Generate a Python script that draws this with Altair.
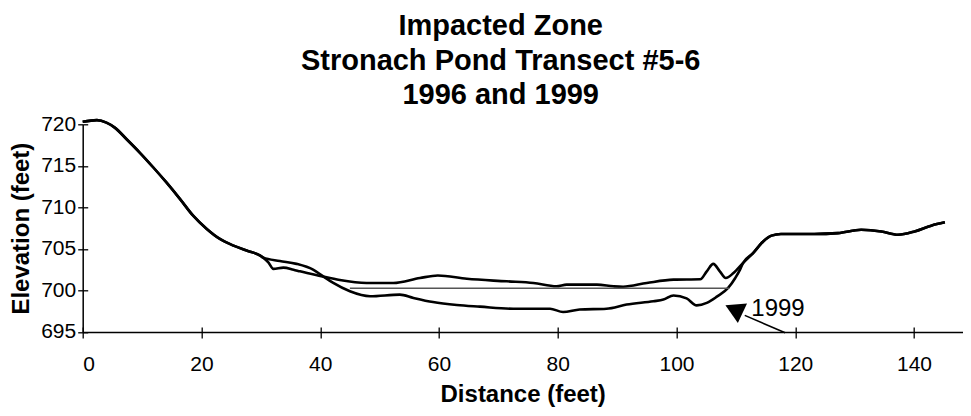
import altair as alt
import pandas as pd

# shared descent (both surveys overlap)
common_d = [0, 2.4, 4.0, 5.4, 7.4, 9.6, 11.9, 14.1, 16.4, 18.6, 20.9, 23.1, 25.4, 27.6, 29.9, 30.4]
common_e = [720.3, 720.5, 720.2, 719.6, 718.2, 716.6, 714.8, 713.0, 711.0, 709.0, 707.4, 706.2, 705.4, 704.8, 704.2, 703.95]

# 1996 profile (upper in the pond)
d1996 = [31.3, 32.1, 33.8, 35.5, 36.6, 40.0, 43.3, 47.8, 52.3, 56.8, 59.8, 64.7, 71.4, 75.9,
         79.8, 81.5, 86.6, 89.4, 91.0, 95.0, 99.5, 104.0, 105.1, 106.2, 107.3, 108.3, 109.6, 111.2]
e1996 = [703.35, 702.6, 702.75, 702.5, 702.3, 701.75, 701.25, 700.9, 700.9, 701.5, 701.8, 701.4, 701.1, 700.9,
         700.5, 700.7, 700.7, 700.5, 700.45, 700.9, 701.3, 701.35, 702.3, 703.2, 702.3, 701.5, 702.1, 703.3]

# 1999 profile (lower in the pond)
d1999 = [33.2, 36.0, 38.8, 40.5, 42.2, 45.0, 48.4, 53.4, 55.7, 59.0, 63.0, 66.9, 72.5, 78.7, 80.9,
         83.7, 88.2, 91.6, 96.1, 97.8, 99.5, 101.7, 103.4, 105.1, 106.8, 108.7, 109.9, 110.7, 111.2]
e1999 = [703.55, 703.2, 702.5, 701.7, 700.9, 699.9, 699.3, 699.5, 699.1, 698.6, 698.25, 698.05, 697.8, 697.8, 697.4,
         697.7, 697.8, 698.3, 698.7, 698.9, 699.4, 699.05, 698.2, 698.5, 699.25, 700.3, 701.5, 702.5, 703.3]

# shared rise and upland (both surveys overlap)
tail_d = [112.9, 114.6, 116.0, 117.6, 123.2, 127.2, 131.1, 134.5, 137.3, 140.1, 142.9, 145.2]
tail_e = [704.5, 705.9, 706.6, 706.8, 706.8, 706.9, 707.3, 707.1, 706.7, 707.1, 707.8, 708.2]

# water level line
water_d = [45.0, 108.9]
water_e = [700.26, 700.26]

# annotation
label_text = ["1999"]
label_d = [112.6]
label_e = [697.8]
arrow_d = [111.5, 118.3]
arrow_e = [697.0, 694.9]
head_d = [110.2]
head_e = [697.2]

x_ticks = [0, 20, 40, 60, 80, 100, 120, 140]
y_ticks = [695, 700, 705, 710, 715, 720]
x_max = 148.2  # the axis runs off the right edge of the picture

rows = []
for name, dd, ee in [("1996", d1996, e1996), ("1999", d1999, e1999)]:
    for d, e in zip(common_d + dd + tail_d, common_e + ee + tail_e):
        rows.append({"d": d, "e": e, "series": name})
profiles = pd.DataFrame(rows)
water = pd.DataFrame({"d": water_d, "e": water_e})
arrow = pd.DataFrame({"d": arrow_d, "e": arrow_e})
head = pd.DataFrame({"d": head_d, "e": head_e})
label = pd.DataFrame({"d": label_d, "e": label_e, "t": label_text})

FONT = "Liberation Sans"
x_scale = alt.Scale(domain=[0, x_max], nice=False)
y_scale = alt.Scale(domain=[695, 720], nice=False, zero=False)

# main axes: domain, outward ticks, labels, titles
x_main = alt.X("d:Q", scale=x_scale, axis=alt.Axis(
    values=x_ticks, title="Distance (feet)", grid=False, format="d",
    tickSize=6, labelPadding=16, titlePadding=8))
y_main = alt.Y("e:Q", scale=y_scale, axis=alt.Axis(
    values=y_ticks, title="Elevation (feet)", grid=False, format="d",
    tickSize=5, labelPadding=2, titlePadding=7))

# inner halves of the crossing ticks
x_inner = alt.X("d:Q", scale=x_scale, axis=alt.Axis(
    values=x_ticks, title="", grid=False, orient="bottom", offset=-5,
    labels=False, domain=False, tickSize=5))
y_inner = alt.Y("e:Q", scale=y_scale, axis=alt.Axis(
    values=y_ticks, title="", grid=False, orient="left", offset=-5,
    labels=False, domain=False, tickSize=5))

lines = alt.Chart(profiles).mark_line(
    color="black", strokeWidth=2.6, interpolate="monotone"
).encode(x=x_main, y=y_main, detail="series:N")

water_line = alt.Chart(water).mark_line(color="#555555", strokeWidth=1.6).encode(x=x_inner, y=y_inner)

arrow_line = alt.Chart(arrow).mark_line(color="black", strokeWidth=1.6).encode(
    x=alt.X("d:Q", scale=x_scale, axis=None), y=alt.Y("e:Q", scale=y_scale, axis=None))

arrow_head = alt.Chart(head).mark_point(
    shape="triangle-down", filled=True, color="black", size=470, opacity=1, angle=355
).encode(x=alt.X("d:Q", scale=x_scale, axis=None), y=alt.Y("e:Q", scale=y_scale, axis=None))

label_mark = alt.Chart(label).mark_text(
    align="left", baseline="middle", font=FONT, fontSize=24, color="black"
).encode(x=alt.X("d:Q", scale=x_scale, axis=None), y=alt.Y("e:Q", scale=y_scale, axis=None), text="t:N")

chart = alt.layer(lines, water_line, arrow_line, arrow_head, label_mark).resolve_axis(
    x="independent", y="independent"
).properties(
    width=880,
    height=207.7,
    autosize=alt.AutoSizeParams(type="none"),
    padding={"left": 74.7, "top": 116.3, "right": 0, "bottom": 76},
    title=alt.TitleParams(
        text=["Impacted Zone", "Stronach Pond Transect #5-6", "1996 and 1999"],
        font=FONT, fontSize=29, fontWeight="bold", lineHeight=34.5,
        anchor="middle", dx=-22, offset=3, color="black",
    ),
).configure_view(stroke=None).configure_axis(
    domainColor="black", domainWidth=1.5, tickColor="black", tickWidth=1.3,
    labelFont=FONT, labelFontSize=21, labelColor="black",
    titleFont=FONT, titleFontSize=24, titleFontWeight="bold", titleColor="black",
)

chart.save("out.html", embed_options={"renderer": "svg", "actions": False})
